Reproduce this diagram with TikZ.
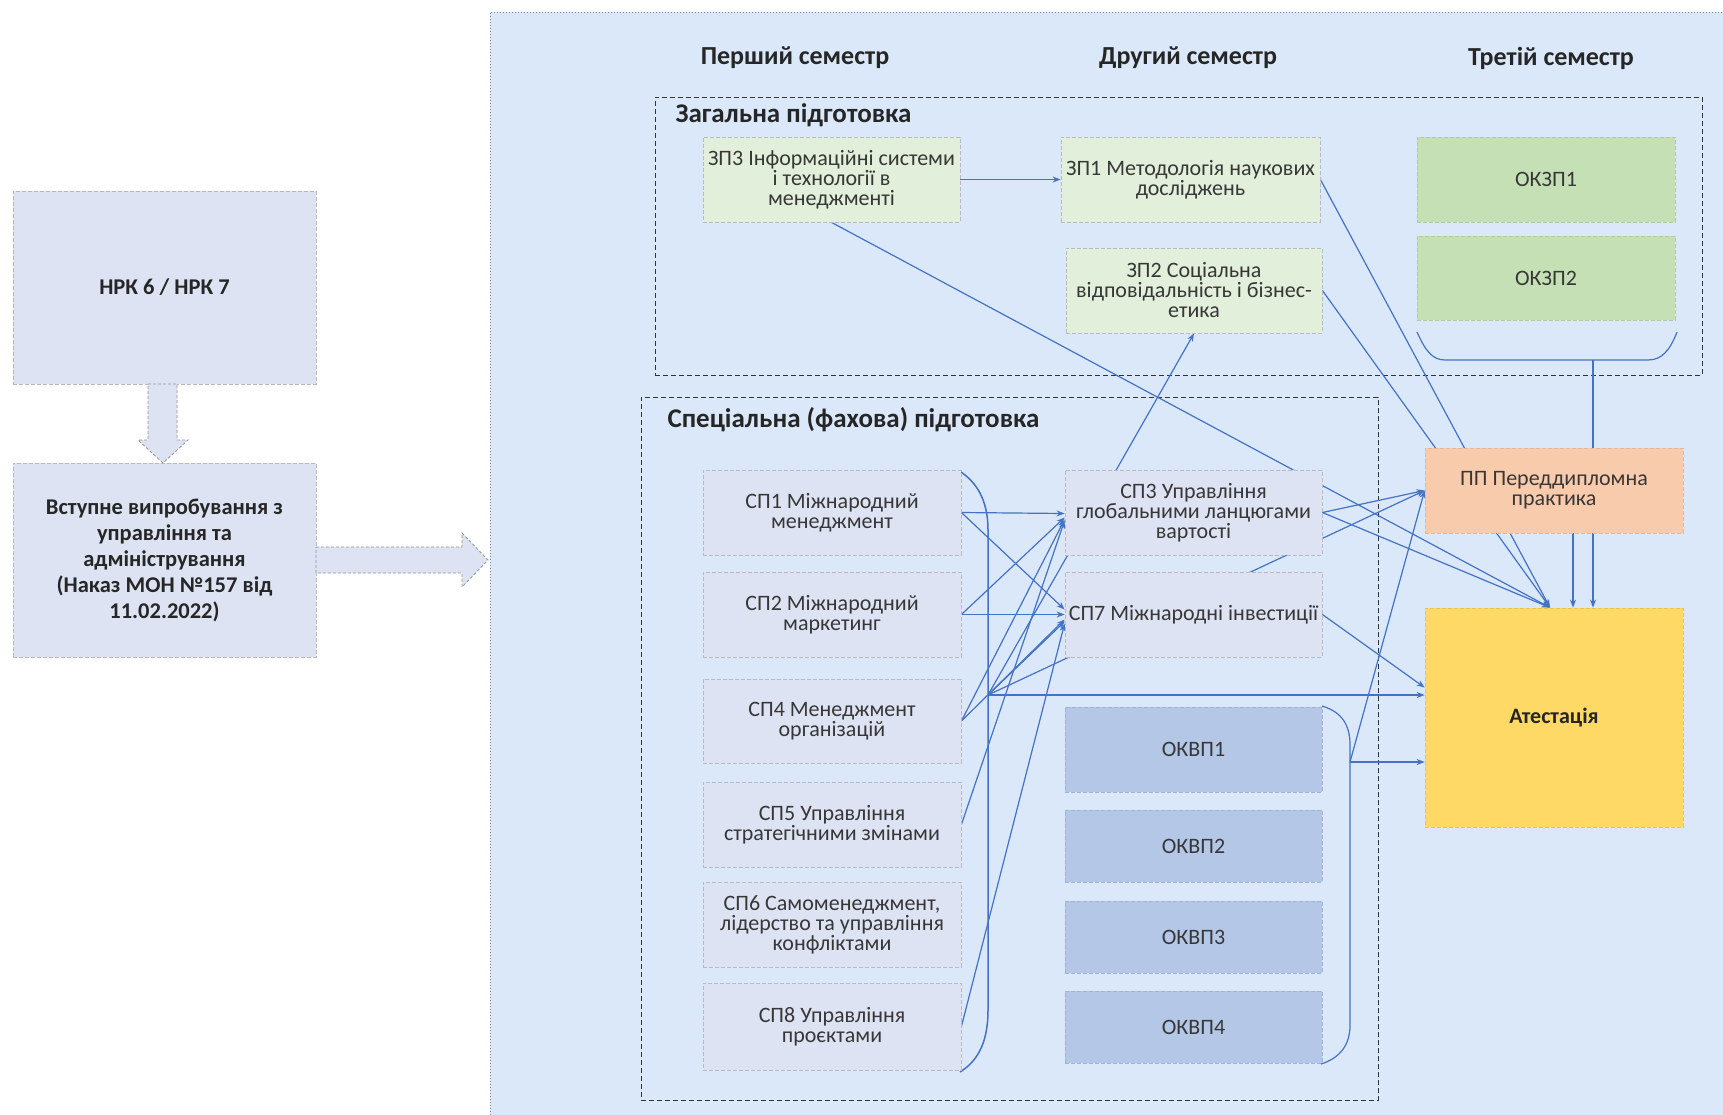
\documentclass[tikz,border=0pt]{standalone}
\usepackage{fontspec}
\setmainfont{Carlito}
\usetikzlibrary{arrows.meta,calc}
\definecolor{outerbg}{RGB}{218,232,250}
\definecolor{outerln}{RGB}{120,140,175}
\definecolor{lav}{RGB}{221,227,243}
\definecolor{zpfill}{RGB}{226,239,218}
\definecolor{okzfill}{RGB}{197,224,180}
\definecolor{okvfill}{RGB}{180,199,231}
\definecolor{ppfill}{RGB}{248,203,173}
\definecolor{atfill}{RGB}{255,217,102}
\definecolor{lnc}{RGB}{68,114,196}
\definecolor{bgray}{RGB}{185,185,190}
\definecolor{txt}{RGB}{55,55,55}
\pgfdeclarelayer{bglayer}
\pgfdeclarelayer{linelayer}
\pgfsetlayers{bglayer,linelayer,main}
\tikzset{
  bx/.style={draw=bgray, dashed, dash pattern=on 4pt off 2pt, line width=0.8pt, align=center, inner sep=0pt,
    text=txt, font=\fontsize{22}{20}\selectfont, minimum width=258pt, minimum height=85pt},
  lbx/.style={bx, fill=lav, text=black!85, font=\bfseries\fontsize{22.5}{26}\selectfont, minimum width=303pt},
  spbx/.style={bx, fill=lav},
  zpbx/.style={bx, fill=zpfill},
  okzbx/.style={bx, fill=okzfill, draw=okzfill!90!black},
  okvbx/.style={bx, fill=okvfill, draw=okvfill!90!black, minimum height=72pt},
  grp/.style={draw=black!80, dashed, dash pattern=on 5pt off 3pt, line width=1pt, inner sep=0pt},
  hdr/.style={font=\bfseries\fontsize{26}{30}\selectfont, text=black!85},
  ttl/.style={font=\bfseries\fontsize{27}{30}\selectfont, text=black!85, anchor=west},
  ln/.style={draw=lnc, line width=1.2pt},
  ar/.style={ln, -{Stealth[length=8pt,width=6pt]}},
  blockar/.style={draw=bgray!80!black, fill=lav, dashed, dash pattern=on 3pt off 2pt, line width=0.8pt},
}
\begin{document}
\begin{tikzpicture}[x=1pt,y=-1pt]
\useasboundingbox (0,0) rectangle (1723,1114);
\begin{pgfonlayer}{bglayer}
\fill[white] (0,0) rectangle (1723,1114);
\node[draw=outerln, fill=outerbg, dotted, line width=1pt, minimum width=1260pt, minimum height=1130pt, inner sep=0pt] (outer) at (1120,577) {};
\node[grp, minimum width=1047pt, minimum height=278pt] (zag) at (1178.5,236) {};
\node[grp, minimum width=737pt, minimum height=703pt] (spec) at (1009.5,748.5) {};
\end{pgfonlayer}
% left column
\node[lbx, minimum height=193pt] (nrk) at (164.5,287.5) {НРК 6 / НРК 7};
\node[lbx, minimum height=194pt] (vst) at (164.5,560) {Вступне випробування з\\управління та\\адміністрування\\(Наказ МОН №157 від\\11.02.2022)};
\draw[blockar] (148,384) -- (177,384) -- (177,440) -- (188,440) -- (163,463) -- (138,440) -- (148,440) -- cycle;
\draw[blockar] (316,547) -- (462,547) -- (462,533) -- (488,560) -- (462,587) -- (462,573) -- (316,573) -- cycle;
% headers
\node[hdr] (h1) at (795,58) {Перший семестр};
\node[hdr] (h2) at (1188,58) {Другий семестр};
\node[hdr] (h3) at (1551,58) {Третій семестр};
\node[ttl] (zagt) at (672,115) {Загальна підготовка};
\node[ttl] (spect) at (664,420) {Спеціальна (фахова) підготовка};
% bracket points
\coordinate (spb) at (988,695);
\coordinate (okb) at (1350,762);
\coordinate (okzb) at (1593,360);
% boxes
\node[zpbx, minimum width=257pt] (zp3) at (831.5,179.5) {ЗП3 Інформаційні системи\\і технології в\\менеджменті};
\node[zpbx, minimum width=259pt] (zp1) at (1190.5,179.5) {ЗП1 Методологія наукових\\досліджень};
\node[zpbx, minimum width=256pt] (zp2) at (1194,290.5) {ЗП2 Соціальна\\відповідальність і бізнес-\\етика};
\node[okzbx] (okz1) at (1546,179.5) {ОКЗП1};
\node[okzbx, minimum height=84pt] (okz2) at (1546,278) {ОКЗП2};
\node[spbx] (sp1) at (832,512.5) {СП1 Міжнародний\\менеджмент};
\node[spbx] (sp2) at (832,614.5) {СП2 Міжнародний\\маркетинг};
\node[spbx, minimum height=84pt] (sp4) at (832,721) {СП4 Менеджмент\\організацій};
\node[spbx] (sp5) at (832,824.5) {СП5 Управління\\стратегічними змінами};
\node[spbx] (sp6) at (832,924.5) {СП6 Самоменеджмент,\\лідерство та управління\\конфліктами};
\node[spbx, minimum height=87pt] (sp8) at (832,1026.5) {СП8 Управління\\проєктами};
\node[spbx, minimum width=257pt] (sp3) at (1193.5,512.5) {СП3 Управління\\глобальними ланцюгами\\вартості};
\node[spbx, minimum width=257pt] (sp7) at (1193.5,614.5) {СП7 Міжнародні інвестиції};
\node[okvbx, minimum width=257pt, minimum height=85pt] (okv1) at (1193.5,749.5) {ОКВП1};
\node[okvbx, minimum width=257pt] (okv2) at (1193.5,846) {ОКВП2};
\node[okvbx, minimum width=257pt] (okv3) at (1193.5,937) {ОКВП3};
\node[okvbx, minimum width=257pt] (okv4) at (1193.5,1027) {ОКВП4};
\node[bx, fill=ppfill, draw=ppfill!90!black] (pp) at (1554,490.5) {ПП Переддипломна\\практика};
\node[bx, fill=atfill, draw=atfill!90!black, minimum height=219pt, font=\bfseries\fontsize{22}{20}\selectfont, text=black!85] (att) at (1554,717.5) {Атестація};
% connectors
\begin{pgfonlayer}{linelayer}
\coordinate (attc) at ($(att.north)+(-4,0)$);
\draw[ar] (zp3.east) -- (zp1.west);
\draw[ar] (zp3.south) -- (attc);
\draw[ar] (zp1.east) -- (attc);
\draw[ar] (zp2.east) -- (attc);
\draw[ln] (1417,332) .. controls (1425,350) and (1432,360) .. (1445,360) -- (1648,360) .. controls (1662,360) and (1670,350) .. (1677,332);
\draw[ar] (okzb) -- (att.north -| okzb);
\coordinate (pps) at ($(pp.south)+(19,0)$);
\draw[ar] (pps) -- (pps |- att.north);
\draw[ln, line width=1.5pt] (961,472) .. controls (980,485) and (988,505) .. (988,530) -- (988,1010) .. controls (988,1045) and (976,1062) .. (960,1072);
\draw[ar] (sp1.east) -- ($(sp3.west)+(0,1)$);
\draw[ar] (sp1.east) -- ($(sp7.west)+(0,-5)$);
\draw[ar] (sp2.east) -- (sp7.west);
\draw[ar] (sp2.east) -- ($(sp3.west)+(0,5)$);
\draw[ar] (sp4.east) -- ($(sp3.west)+(0,7)$);
\draw[ar] (sp4.east) -- ($(sp7.west)+(0,5)$);
\draw[ar] (sp5.east) -- ($(sp3.west)+(0,8)$);
\draw[ar] (sp8.east) -- ($(sp7.west)+(0,9)$);
\draw[ar] (spb) -- ($(sp7.west)+(0,7)$);
\draw[ar] (spb) -- (att.west |- spb);
\draw[ar] (spb) -- (zp2.south);
\draw[ar] (spb) -- (pp.west);
\draw[ar] (sp3.east) -- (pp.west);
\draw[ar] (sp3.east) -- (attc);
\draw[ar] (sp7.east) -- ($(att.west)+(0,-30)$);
\draw[ln] (1322,706) .. controls (1342,712) and (1350,725) .. (1350,745) -- (1350,1025) .. controls (1350,1045) and (1340,1058) .. (1321,1064);
\draw[ar] (okb) -- (att.west |- okb);
\draw[ar] (okb) -- (pp.west);
\end{pgfonlayer}
\end{tikzpicture}
\end{document}
